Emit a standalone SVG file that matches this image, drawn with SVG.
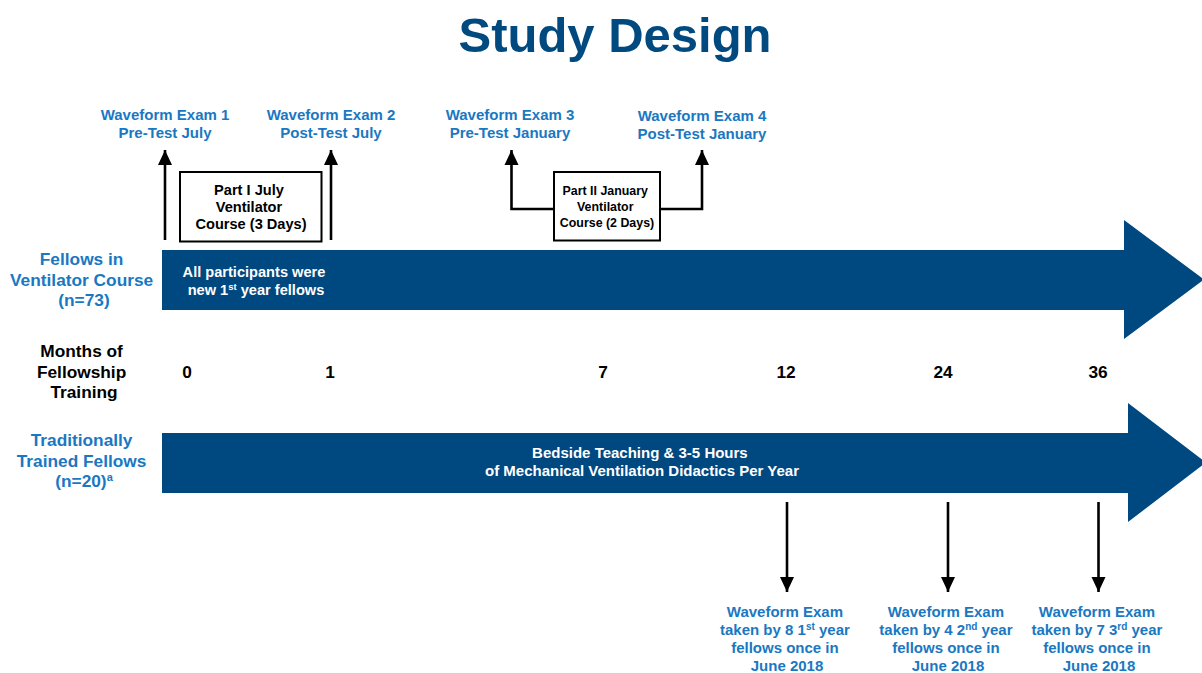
<svg xmlns="http://www.w3.org/2000/svg" width="1202" height="673" viewBox="0 0 1202 673">
  <defs>
    <style>
      text { font-family: "Liberation Sans", Arial, Helvetica, sans-serif; font-weight: bold; }
      .title { font-size: 49px; fill: #004a80; }
      .exam { font-size: 15px; fill: #1a78c2; }
      .group { font-size: 17.3px; fill: #1a78c2; }
      .axis { font-size: 17.3px; fill: #000; }
      .course { font-size: 14.6px; fill: #000; }
      .course2 { font-size: 12.4px; fill: #000; }
      .bartext { font-size: 14.6px; fill: #fff; }
      .bartext2 { font-size: 15px; fill: #fff; }
      .bar { fill: #004880; }
      .box { fill: #fff; stroke: #000; stroke-width: 2; }
      .conn { fill: none; stroke: #000; stroke-width: 2.6; }
    </style>
    <marker id="head" markerUnits="userSpaceOnUse" markerWidth="16" markerHeight="16" viewBox="0 0 16 16" refX="15" refY="8" orient="auto">
      <path d="M0,1 L15,8 L0,15 Z" fill="#000"/>
    </marker>
  </defs>

  <text class="title" x="615" y="52" text-anchor="middle">Study Design</text>

  <!-- timeline bars -->
  <g id="bar-course">
    <polygon class="bar" points="162,250 1124,250 1124,220 1204,279.5 1124,339 1124,310 162,310"/>
    <text class="bartext" text-anchor="middle">
      <tspan x="256" y="277">All participants were</tspan>
      <tspan x="256" y="295">new 1<tspan font-size="9.5" dy="-5">st</tspan><tspan dy="5"> year fellows</tspan></tspan>
    </text>
  </g>
  <g id="bar-traditional">
    <polygon class="bar" points="162,433 1128,433 1128,403 1206,462.5 1128,522 1128,493 162,493"/>
    <text class="bartext2" text-anchor="middle">
      <tspan x="642" y="458">Bedside Teaching &amp; 3-5 Hours</tspan>
      <tspan x="642" y="476">of Mechanical Ventilation Didactics Per Year</tspan>
    </text>
  </g>

  <!-- row labels -->
  <g id="label-course">
    <text class="group" text-anchor="middle">
      <tspan x="84" y="265">Fellows in</tspan>
      <tspan x="84" y="286">Ventilator Course</tspan>
      <tspan x="84" y="306">(n=73)</tspan>
    </text>
  </g>
  <g id="label-months">
    <text class="axis" text-anchor="middle">
      <tspan x="84" y="357">Months of</tspan>
      <tspan x="84" y="378">Fellowship</tspan>
      <tspan x="84" y="398">Training</tspan>
    </text>
  </g>
  <g id="label-traditional">
    <text class="group" text-anchor="middle">
      <tspan x="84" y="446">Traditionally</tspan>
      <tspan x="84" y="467">Trained Fellows</tspan>
      <tspan x="84" y="487">(n=20)<tspan font-size="11" dy="-6">a</tspan></tspan>
    </text>
  </g>

  <!-- month ticks -->
  <g id="months">
    <text class="axis" x="187" y="378" text-anchor="middle">0</text>
    <text class="axis" x="330" y="378" text-anchor="middle">1</text>
    <text class="axis" x="603" y="378" text-anchor="middle">7</text>
    <text class="axis" x="786" y="378" text-anchor="middle">12</text>
    <text class="axis" x="943" y="378" text-anchor="middle">24</text>
    <text class="axis" x="1098" y="378" text-anchor="middle">36</text>
  </g>

  <!-- courses -->
  <g id="course-july">
    <rect class="box" x="180" y="172" width="141.5" height="69.5"/>
    <text class="course" text-anchor="middle">
      <tspan x="251" y="195">Part I July</tspan>
      <tspan x="251" y="212">Ventilator</tspan>
      <tspan x="251" y="229">Course (3 Days)</tspan>
    </text>
  </g>
  <g id="course-january">
    <rect class="box" x="554" y="172" width="106" height="68.5"/>
    <text class="course2" text-anchor="middle">
      <tspan x="607" y="195">Part II January</tspan>
      <tspan x="607" y="211">Ventilator</tspan>
      <tspan x="607" y="226.5">Course (2 Days)</tspan>
    </text>
  </g>

  <!-- exam labels -->
  <g id="exam-1">
    <text class="exam" text-anchor="middle"><tspan x="165" y="120">Waveform Exam 1</tspan><tspan x="165" y="138">Pre-Test July</tspan></text>
  </g>
  <g id="exam-2">
    <text class="exam" text-anchor="middle"><tspan x="331" y="120">Waveform Exam 2</tspan><tspan x="331" y="138">Post-Test July</tspan></text>
  </g>
  <g id="exam-3">
    <text class="exam" text-anchor="middle"><tspan x="510" y="120">Waveform Exam 3</tspan><tspan x="510" y="138">Pre-Test January</tspan></text>
  </g>
  <g id="exam-4">
    <text class="exam" text-anchor="middle"><tspan x="702" y="121">Waveform Exam 4</tspan><tspan x="702" y="139">Post-Test January</tspan></text>
  </g>
  <g id="exam-year1">
    <text class="exam" text-anchor="middle">
      <tspan x="787" y="617">Waveform Exam</tspan>
      <tspan x="787" y="635">taken by 8 1<tspan font-size="10" dy="-5">st</tspan><tspan dy="5"> year</tspan></tspan>
      <tspan x="787" y="653">fellows once in</tspan>
      <tspan x="787" y="671">June 2018</tspan>
    </text>
  </g>
  <g id="exam-year2">
    <text class="exam" text-anchor="middle">
      <tspan x="948" y="617">Waveform Exam</tspan>
      <tspan x="948" y="635">taken by 4 2<tspan font-size="10" dy="-5">nd</tspan><tspan dy="5"> year</tspan></tspan>
      <tspan x="948" y="653">fellows once in</tspan>
      <tspan x="948" y="671">June 2018</tspan>
    </text>
  </g>
  <g id="exam-year3">
    <text class="exam" text-anchor="middle">
      <tspan x="1099" y="617">Waveform Exam</tspan>
      <tspan x="1099" y="635">taken by 7 3<tspan font-size="10" dy="-5">rd</tspan><tspan dy="5"> year</tspan></tspan>
      <tspan x="1099" y="653">fellows once in</tspan>
      <tspan x="1099" y="671">June 2018</tspan>
    </text>
  </g>

  <!-- connectors -->
  <g id="connectors">
    <path class="conn" d="M165,240 V150" marker-end="url(#head)"/>
    <path class="conn" d="M331,240 V150" marker-end="url(#head)"/>
    <path class="conn" d="M554,209 H511.5 V150" marker-end="url(#head)"/>
    <path class="conn" d="M660,209 H702 V150" marker-end="url(#head)"/>
    <path class="conn" d="M787,502 V592" marker-end="url(#head)"/>
    <path class="conn" d="M948,502 V592" marker-end="url(#head)"/>
    <path class="conn" d="M1098.5,502 V592" marker-end="url(#head)"/>
  </g>
</svg>
